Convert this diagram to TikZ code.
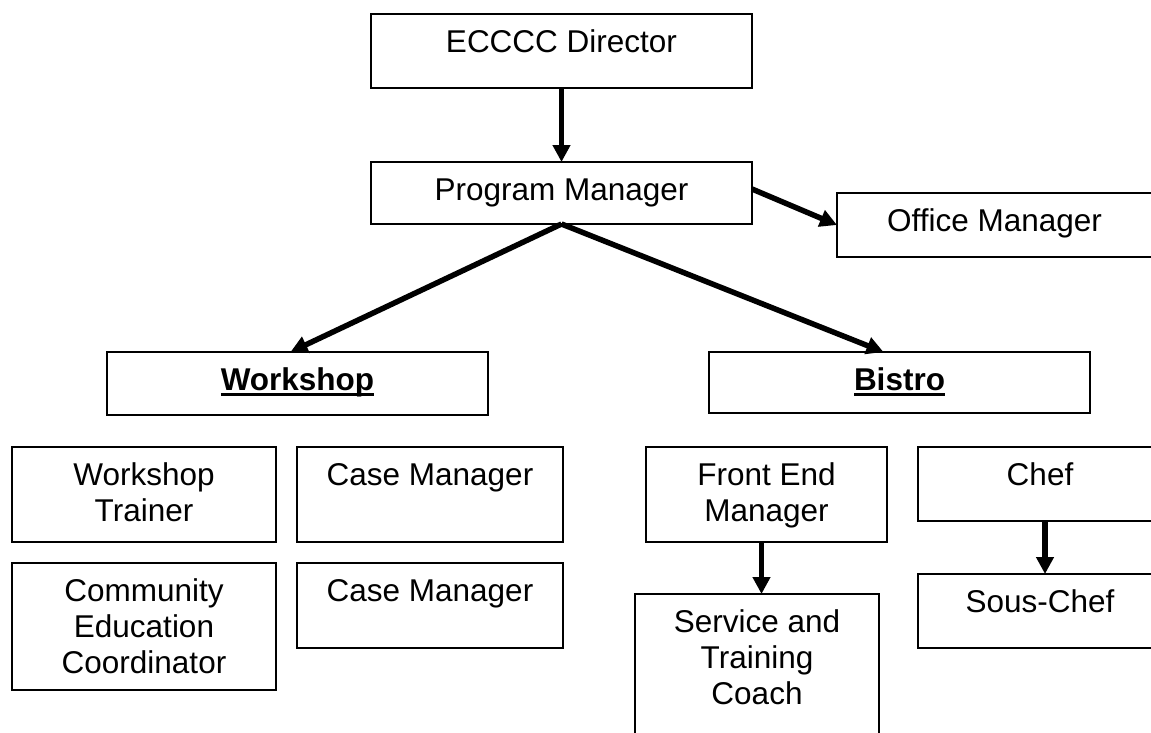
\documentclass[tikz,border=0pt]{standalone}
\usepackage{fontspec}
\setmainfont{Liberation Sans}
\usetikzlibrary{arrows.meta}
\newcommand{\orgtext}[3]{\parbox[c][#2][t]{#1}{\centering\vspace*{12.8pt}\strut #3\par}}
\newcommand{\ulbold}[1]{\setbox0=\hbox{\bfseries #1}\rlap{\rule[-6pt]{\wd0}{2.7pt}}\box0}
\begin{document}
\begin{tikzpicture}[x=1pt,y=-1pt,
  orgbox/.style={draw=black, line width=2pt, inner sep=0pt, outer sep=0pt, anchor=north west,
    font=\fontsize{31.5pt}{36pt}\selectfont},
  arr/.style={draw=black, line width=5.5pt, -{Triangle[width=17pt,length=17pt]}}]
\clip (0,0) rectangle (1151,732);
\fill[white] (0,0) rectangle (1151,732);
% top level
\node[orgbox] (dir) at (371,14) {\orgtext{381pt}{74pt}{ECCCC Director}};
\node[orgbox] (pm) at (371,162) {\orgtext{381pt}{62pt}{Program Manager}};
\node[orgbox] (office) at (837,193) {\orgtext{315pt}{64pt}{Office Manager}};
% departments
\node[orgbox] (ws) at (107,352) {\orgtext{381pt}{63pt}{\ulbold{Workshop}}};
\node[orgbox] (bis) at (709,352) {\orgtext{381pt}{61pt}{\ulbold{Bistro}}};
% workshop staff
\node[orgbox] (wt) at (12,447) {\orgtext{264pt}{95pt}{Workshop\\Trainer}};
\node[orgbox] (cm1) at (297,447) {\orgtext{266pt}{95pt}{Case Manager}};
\node[orgbox] (ced) at (12,563) {\orgtext{264pt}{127pt}{Community\\Education\\Coordinator}};
\node[orgbox] (cm2) at (297,563) {\orgtext{266pt}{85pt}{Case Manager}};
% bistro staff
\node[orgbox] (fe) at (646,447) {\orgtext{241pt}{95pt}{Front End\\Manager}};
\node[orgbox] (stc) at (635,594) {\orgtext{244pt}{160pt}{Service and\\Training\\Coach}};
\node[orgbox] (chef) at (918,447) {\orgtext{244pt}{74pt}{Chef}};
\node[orgbox] (sous) at (918,574) {\orgtext{244pt}{74pt}{Sous-Chef}};
% connectors
\draw[arr] (dir.south) -- (pm.north);
\draw[arr] ([yshift=4pt]pm.east) -- (office.west);
\draw[arr] (pm.south) -- ([xshift=-7pt]ws.north);
\draw[arr] (pm.south) -- ([xshift=-16pt]bis.north);
\draw[arr] ([xshift=-5pt]fe.south) -- ([xshift=-5pt]fe.south |- stc.north);
\draw[arr] ([xshift=5pt]chef.south) -- ([xshift=5pt]chef.south |- sous.north);
\end{tikzpicture}
\end{document}
